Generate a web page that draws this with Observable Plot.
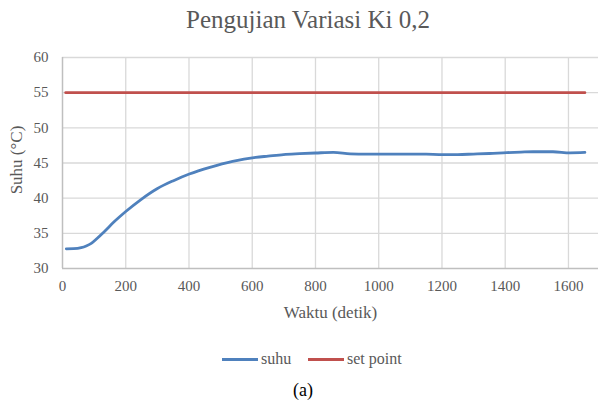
<!DOCTYPE html>
<html>
<head>
<meta charset="utf-8">
<script src="https://cdn.jsdelivr.net/npm/d3@7"></script>
<script src="https://cdn.jsdelivr.net/npm/@observablehq/plot@0.6"></script>
<style>
  html, body { margin: 0; padding: 0; background: #fff; }
  body { width: 598px; height: 408px; position: relative; overflow: hidden; font-family: "Liberation Serif", serif; }
  #title { height: 40px; text-align: center; font-family: "Liberation Serif", serif; font-size: 25px; color: #595959; line-height: 40px; padding-left: 18px; box-sizing: border-box; }
  #ylabel { position: absolute; left: 17px; top: 160px; transform: translate(-50%, -50%) rotate(-90deg); white-space: nowrap; font-family: "Liberation Serif", serif; font-size: 17px; color: #595959; }
  #legend { position: absolute; top: 349px; left: 0; width: 598px; height: 20px; font-family: "Liberation Serif", serif; font-size: 16px; color: #595959; }
  .item { position: absolute; top: 0; height: 20px; line-height: 20px; }
  .swatch { position: absolute; top: 9px; height: 3px; width: 36px; }
  #caption { position: absolute; top: 380px; left: 0; width: 598px; text-align: center; font-family: "Liberation Serif", serif; font-size: 18px; color: #000; padding-left: 8px; box-sizing: border-box; }
</style>
</head>
<body>
<div id="title">Pengujian Variasi Ki 0,2</div>
<div id="chart"></div>
<div id="ylabel">Suhu (°C)</div>
<div id="legend">
  <div class="swatch" style="left:222px;background:#4F81BD"></div>
  <div class="item" style="left:261px">suhu</div>
  <div class="swatch" style="left:308px;background:#C0504D"></div>
  <div class="item" style="left:347px">set point</div>
</div>
<div id="caption">(a)</div>
<script>
const waktu = [12, 35, 59, 75, 91, 110, 132, 164, 200, 247, 299, 351, 401, 466, 538, 611, 650, 699, 750, 800, 857, 910, 963, 1030, 1100, 1150, 1204, 1250, 1299, 1350, 1405, 1450, 1488, 1551, 1605, 1652];
const suhu = [32.8, 32.82, 32.96, 33.2, 33.57, 34.3, 35.24, 36.67, 38.1, 39.77, 41.34, 42.49, 43.43, 44.39, 45.24, 45.8, 45.98, 46.2, 46.32, 46.42, 46.52, 46.3, 46.25, 46.25, 46.27, 46.25, 46.2, 46.2, 46.27, 46.35, 46.48, 46.55, 46.6, 46.6, 46.45, 46.5];
const setWaktu = [10, 1652];
const setPoint = [55, 55];
const xTicks = [0, 200, 400, 600, 800, 1000, 1200, 1400, 1600];
const yTicks = [30, 35, 40, 45, 50, 55, 60];

const suhuData = waktu.map((t, i) => ({t, v: suhu[i]}));
const spData = setWaktu.map((t, i) => ({t, v: setPoint[i]}));
const FF = "Liberation Serif";

const chart = Plot.plot({
  width: 598,
  height: 290,
  marginTop: 17,
  marginBottom: 62,
  marginLeft: 62,
  marginRight: 0,
  style: {fontFamily: FF, fontSize: "15px", color: "#595959", background: "#fff"},
  x: {domain: [0, 1695]},
  y: {domain: [30, 60]},
  marks: [
    Plot.ruleY(yTicks.filter(d => d > 30), {stroke: "#d9d9d9", strokeWidth: 1.3, strokeOpacity: 1}),
    Plot.ruleX(xTicks.filter(d => d > 0), {y1: 30, y2: 60, stroke: "#d9d9d9", strokeWidth: 1.3, strokeOpacity: 1}),
    Plot.ruleY([30], {stroke: "#bfbfbf", strokeWidth: 1.5}),
    Plot.ruleX([0], {y1: 30, y2: 60, stroke: "#bfbfbf", strokeWidth: 1.5}),
    Plot.line(spData, {x: "t", y: "v", stroke: "#C0504D", strokeWidth: 2.8}),
    Plot.line(suhuData, {x: "t", y: "v", stroke: "#4F81BD", strokeWidth: 2.8, curve: "monotone-x"}),
    Plot.axisX(xTicks, {tickSize: 0, tickPadding: 12, label: null, fill: "#595959", fontFamily: FF, fontSize: 15, tickFormat: d => String(d)}),
    Plot.axisY(yTicks, {tickSize: 0, tickPadding: 14, label: null, fill: "#595959", fontFamily: FF, fontSize: 15, tickFormat: d => String(d)}),
    Plot.text(["Waktu (detik)"], {frameAnchor: "bottom", dy: 49, fontSize: 17, fontFamily: FF, fill: "#595959"})
  ]
});
document.getElementById("chart").appendChild(chart);
</script>
</body>
</html>
